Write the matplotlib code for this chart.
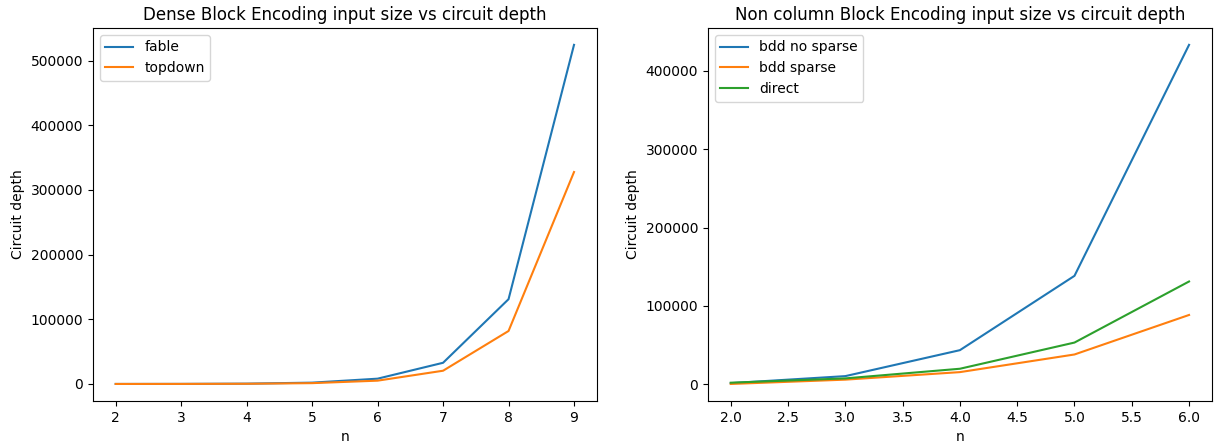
import matplotlib.pyplot as plt

# dense block encoding
n_dense = [2, 3, 4, 5, 6, 7, 8, 9]
fable = [32, 128, 512, 2048, 8192, 32768, 131072, 524288]
topdown = [20, 80, 320, 1280, 5120, 20480, 81920, 327680]

# non column block encoding
n_nc = [2.0, 3.0, 4.0, 5.0, 6.0]
bdd_no_sparse = [1500, 10500, 43600, 138400, 433000]
bdd_sparse = [500, 6000, 15600, 38100, 88500]
direct = [2100, 7600, 19900, 53300, 131200]

fig, (ax1, ax2) = plt.subplots(1, 2, figsize=(12.21, 4.43), dpi=100)
plt.subplots_adjust(left=0.076, right=0.9926, top=0.937, bottom=0.095, wspace=0.22)

ax1.plot(n_dense, fable, label="fable")
ax1.plot(n_dense, topdown, label="topdown")
ax1.set_title("Dense Block Encoding input size vs circuit depth")
ax1.set_xlabel("n")
ax1.set_ylabel("Circuit depth")
ax1.legend(loc="upper left")

ax2.plot(n_nc, bdd_no_sparse, label="bdd no sparse")
ax2.plot(n_nc, bdd_sparse, label="bdd sparse")
ax2.plot(n_nc, direct, label="direct")
ax2.set_title("Non column Block Encoding input size vs circuit depth")
ax2.set_xlabel("n")
ax2.set_ylabel("Circuit depth")
ax2.legend(loc="upper left")

plt.savefig("out.png")
